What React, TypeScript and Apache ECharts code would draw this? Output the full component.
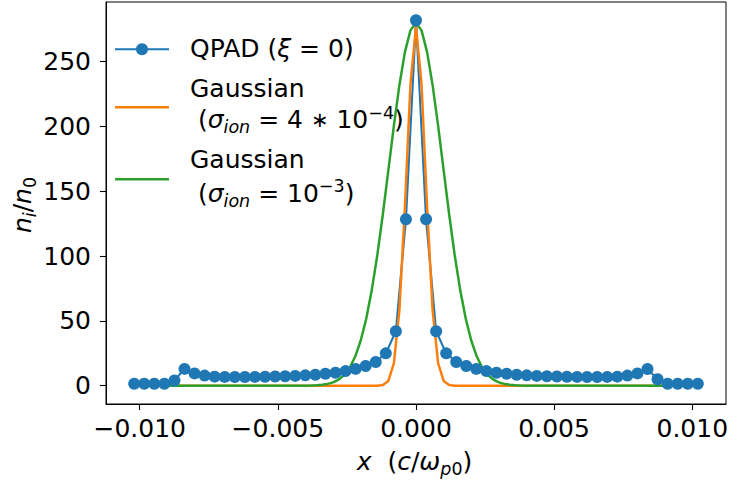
import React, { useEffect, useRef } from 'react';
import * as echarts from 'echarts';

// ---- data ----
const qpadX = [
  -0.0102, -0.009836, -0.009471, -0.009107, -0.008743, -0.008379, -0.008014, -0.00765, -0.007286, -0.006921,
  -0.006557, -0.006193, -0.005829, -0.005464, -0.0051, -0.004736, -0.004371, -0.004007, -0.003643, -0.003279,
  -0.002914, -0.00255, -0.002186, -0.001821, -0.001457, -0.001093, -0.000729, -0.000364, 0,
  0.000364, 0.000729, 0.001093, 0.001457, 0.001821, 0.002186, 0.00255, 0.002914, 0.003279, 0.003643,
  0.004007, 0.004371, 0.004736, 0.0051, 0.005464, 0.005829, 0.006193, 0.006557, 0.006921, 0.007286,
  0.00765, 0.008014, 0.008379, 0.008743, 0.009107, 0.009471, 0.009836, 0.0102,
];
const qpadY = [
  1.5, 1.5, 1.5, 1.5, 4.0, 13.0, 9.5, 7.8, 7.0, 6.8,
  6.7, 6.7, 6.8, 6.9, 7.1, 7.3, 7.6, 8.0, 8.5, 9.2,
  10.0, 11.3, 13.0, 15.2, 18.3, 25.0, 42.0, 128.5, 282.0,
  128.5, 42.0, 25.0, 18.3, 15.2, 13.0, 11.3, 10.0, 9.2, 8.5,
  8.0, 7.6, 7.3, 7.1, 6.9, 6.8, 6.7, 6.7, 6.8, 7.0,
  7.8, 9.5, 12.9, 5.0, 1.5, 1.5, 1.5, 1.5,
];
const gaussX = [
  -0.0102,
  -0.004, -0.0038, -0.0036, -0.0034, -0.0032, -0.003, -0.0028, -0.0026, -0.0024, -0.0022,
  -0.002, -0.0018, -0.0016, -0.0014, -0.0012, -0.001, -0.0008, -0.0006, -0.0004, -0.0002,
  0,
  0.0002, 0.0004, 0.0006, 0.0008, 0.001, 0.0012, 0.0014, 0.0016, 0.0018, 0.002,
  0.0022, 0.0024, 0.0026, 0.0028, 0.003, 0.0032, 0.0034, 0.0036, 0.0038, 0.004,
  0.0102,
];
const gaussNarrowY = [
  0,
  0, 0, 0, 0, 0, 0, 0, 0, 0, 0,
  0, 0, 0, 0.05, 0.5, 3.7, 17.4, 58.4, 138.6, 233,
  277,
  233, 138.6, 58.4, 17.4, 3.7, 0.5, 0.05, 0, 0, 0,
  0, 0, 0, 0, 0, 0, 0, 0, 0, 0,
  0,
];
const gaussWideY = [
  0,
  0.05, 0.1, 0.3, 0.7, 1.4, 2.6, 4.7, 8.3, 13.9, 22.5,
  34.9, 51.8, 73.8, 100.9, 132.3, 166.4, 200.7, 232.1, 257.6, 274.2,
  280,
  274.2, 257.6, 232.1, 200.7, 166.4, 132.3, 100.9, 73.8, 51.8, 34.9,
  22.5, 13.9, 8.3, 4.7, 2.6, 1.4, 0.7, 0.3, 0.1, 0.05,
  0,
];
const xTicks = [-0.01, -0.005, 0, 0.005, 0.01];
const yTicks = [0, 50, 100, 150, 200, 250];
const seriesNames = ['QPAD (ξ = 0)', 'Gaussian (σ_ion = 4∗10^−4)', 'Gaussian (σ_ion = 10^−3)'];
const colors = ['#1f77b4', '#ff7f0e', '#2ca02c'];

const FONT = "'DejaVu Sans', 'Noto Sans', sans-serif";
const FS = 25;
const SUB = 17.5;

type Piece = { t: string; it?: boolean; size?: number; dy?: number };

let ctx: CanvasRenderingContext2D | null = null;
function measure(t: string, size: number, it: boolean) {
  if (!ctx) ctx = document.createElement('canvas').getContext('2d');
  ctx!.font = `${it ? 'italic ' : ''}${size}px ${FONT}`;
  return ctx!.measureText(t).width;
}

function layout(pieces: Piece[], x0: number, baseline: number, center = false) {
  const widths = pieces.map((p) => measure(p.t, p.size ?? FS, !!p.it));
  const total = widths.reduce((a, b) => a + b, 0);
  let x = center ? x0 - total / 2 : x0;
  return pieces.map((p, i) => {
    const size = p.size ?? FS;
    const el = {
      type: 'text',
      x,
      y: baseline + (p.dy ?? 0) - 0.346 * size,
      silent: true,
      style: {
        text: p.t,
        fill: '#000',
        font: `${p.it ? 'italic ' : ''}${size}px ${FONT}`,
        textAlign: 'left',
        textVerticalAlign: 'middle',
        verticalAlign: 'middle',
      },
    };
    x += widths[i];
    return el;
  });
}

export default function App() {
  const ref = useRef<HTMLDivElement>(null);
  useEffect(() => {
    document.body.style.margin = '0';
    const chart = echarts.init(ref.current!, null, { renderer: 'svg' });

    const legendX0 = 190;
    const legendTexts = [
      ...layout([{ t: 'QPAD (' }, { t: 'ξ', it: true }, { t: ' = 0)' }], legendX0, 57.3),
      ...layout([{ t: 'Gaussian' }], legendX0, 97.3),
      ...layout(
        [
          { t: ' (' },
          { t: 'σ', it: true },
          { t: 'ion', it: true, size: SUB, dy: 5 },
          { t: ' = 4 ' },
          { t: '∗', size: 21, dy: -1 },
          { t: ' 10' },
          { t: '−4', size: SUB, dy: -9 },
          { t: ')' },
        ],
        legendX0,
        128.3
      ),
      ...layout([{ t: 'Gaussian' }], legendX0, 168.3),
      ...layout(
        [
          { t: ' (' },
          { t: 'σ', it: true },
          { t: 'ion', it: true, size: SUB, dy: 5 },
          { t: ' = 10' },
          { t: '−3', size: SUB, dy: -9.5 },
          { t: ')' },
        ],
        legendX0,
        201.7
      ),
    ];
    const handleY = [49.3, 107.3, 179.3];
    const handles: any[] = [];
    handleY.forEach((y, i) => {
      handles.push({
        type: 'line',
        silent: true,
        shape: { x1: 115, y1: y, x2: 169, y2: y },
        style: { stroke: colors[i], lineWidth: i === 0 ? 2.1 : 2.5 },
      });
    });
    handles.push({
      type: 'circle',
      silent: true,
      shape: { cx: 142, cy: handleY[0], r: 6 },
      style: { fill: colors[0] },
    });

    const xLabel = layout(
      [
        { t: 'x', it: true },
        { t: '  (' },
        { t: 'c', it: true },
        { t: '/' },
        { t: 'ω', it: true },
        { t: 'p', it: true, size: SUB, dy: 5 },
        { t: '0', size: SUB, dy: 5 },
        { t: ')' },
      ],
      414.5,
      470,
      true
    );
    const yLabelChildren = layout(
      [
        { t: 'n', it: true },
        { t: 'i', it: true, size: SUB, dy: 5 },
        { t: '/' },
        { t: 'n', it: true },
        { t: '0', size: SUB, dy: 5 },
      ],
      0,
      0,
      true
    );

    const tickStyle = { show: true, length: 6, lineStyle: { color: '#000', width: 1.1 } };
    const lineStyleAxis = { show: true, onZero: false, lineStyle: { color: '#000', width: 1 } };

    chart.setOption({
      animation: false,
      backgroundColor: '#fff',
      grid: {
        left: 106,
        right: 5,
        top: 2,
        bottom: 81,
        show: true,
        borderColor: '#000',
        borderWidth: 1,
        backgroundColor: 'transparent',
        containLabel: false,
        outerBoundsMode: 'none',
      },
      xAxis: {
        type: 'value',
        min: -0.01122,
        max: 0.01122,
        splitLine: { show: false },
        axisLine: lineStyleAxis,
        axisTick: { ...tickStyle, customValues: xTicks },
        axisLabel: {
          customValues: xTicks,
          margin: 12,
          color: '#000',
          fontFamily: FONT,
          fontSize: FS,
          formatter: (v: number) => (v < 0 ? '−' : '') + Math.abs(v).toFixed(3),
        },
      },
      yAxis: {
        type: 'value',
        min: -14.1,
        max: 296.1,
        splitLine: { show: false },
        axisLine: lineStyleAxis,
        axisTick: { ...tickStyle, customValues: yTicks },
        axisLabel: {
          customValues: yTicks,
          margin: 15,
          color: '#000',
          fontFamily: FONT,
          fontSize: FS,
          formatter: (v: number) => String(v),
        },
      },
      series: [
        {
          name: seriesNames[0],
          type: 'line',
          data: qpadX.map((x, i) => [x, qpadY[i]]),
          symbol: 'circle',
          symbolSize: 12,
          showSymbol: true,
          showAllSymbol: true,
          lineStyle: { color: colors[0], width: 2.1 },
          itemStyle: { color: colors[0] },
          emphasis: { disabled: true },
        },
        {
          name: seriesNames[1],
          type: 'line',
          data: gaussX.map((x, i) => [x, gaussNarrowY[i]]),
          showSymbol: false,
          symbol: 'none',
          lineStyle: { color: colors[1], width: 2.5 },
          itemStyle: { color: colors[1] },
          emphasis: { disabled: true },
        },
        {
          name: seriesNames[2],
          type: 'line',
          data: gaussX.map((x, i) => [x, gaussWideY[i]]),
          showSymbol: false,
          symbol: 'none',
          lineStyle: { color: colors[2], width: 2.5 },
          itemStyle: { color: colors[2] },
          emphasis: { disabled: true },
        },
      ],
      graphic: [
        ...handles,
        ...legendTexts,
        ...xLabel,
        { type: 'group', x: 31, y: 205, rotation: Math.PI / 2, children: yLabelChildren },
      ],
    });
    return () => chart.dispose();
  }, []);
  return <div ref={ref} style={{ width: 731, height: 485 }} />;
}
